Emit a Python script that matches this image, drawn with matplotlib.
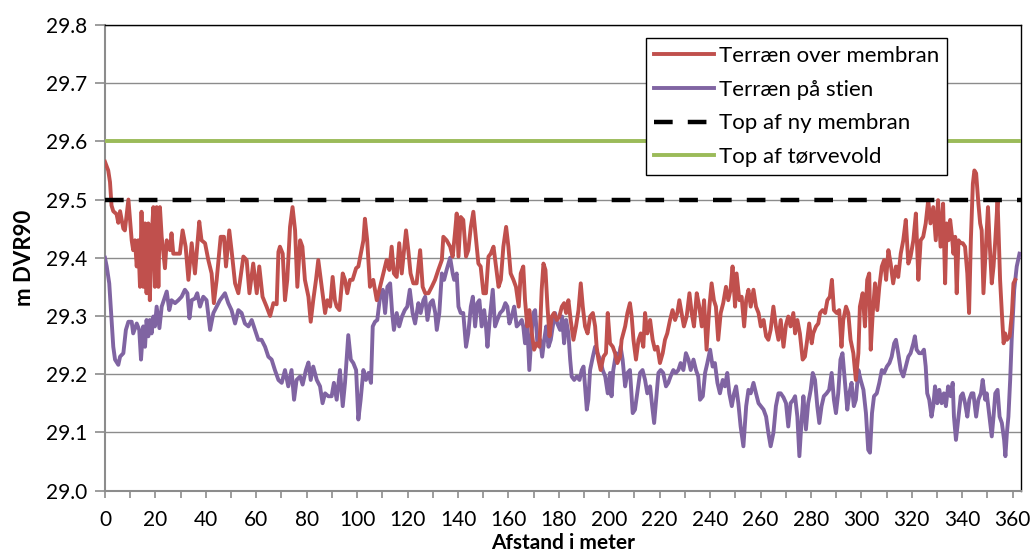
import matplotlib.pyplot as plt
from matplotlib.ticker import MultipleLocator

# distances (m) and levels (m DVR90)
red_x = [0, 1.3, 2.0, 2.6, 3.3, 4.6, 5.3, 6.0, 7.3, 7.9, 9.3, 10.6, 11.2, 11.9, 12.6, 13.2, 13.9, 14.5, 15.2, 15.9,
         16.5, 17.2, 17.8, 18.5, 19.2, 19.8, 20.5, 21.2, 21.8, 22.5, 23.8, 24.5, 25.8, 26.4, 27.1, 28.4, 29.7, 30.8,
         32.0, 33.1, 34.4, 35.7, 37.4, 38.3, 39.7, 41.0, 42.3, 43.2, 44.3, 45.9, 47.2, 48.0, 49.3, 50.2, 51.6, 52.9,
         54.9, 56.2, 57.3, 58.8, 60.2, 61.2, 62.5, 64.1, 65.5, 66.8, 68.1, 68.8, 69.4, 70.5, 71.4, 72.3, 73.4, 74.4,
         75.4, 76.3, 77.4, 78.3, 79.3, 80.7, 81.6, 82.6, 83.7, 84.6, 85.6, 86.6, 87.3, 88.2, 89.3, 90.3, 91.2, 91.9,
         93.0, 94.3, 95.2, 96.1, 97.2, 98.2, 99.6, 100.5, 101.4, 102.5, 103.1, 104.0, 105.1, 106.4, 107.8, 109.1,
         110.4, 111.7, 112.8, 113.7, 114.6, 115.7, 116.7, 117.7, 118.6, 119.4, 120.3, 121.2, 122.3, 123.6, 125.0,
         126.0, 127.0, 128.3, 129.6, 130.9, 132.2, 133.6, 134.2, 135.5, 136.9, 137.9, 138.8, 139.5, 140.2, 141.1,
         142.1, 143.2, 144.1, 145.1, 146.1, 147.2, 148.1, 149.0, 150.1, 151.1, 152.1, 153.0, 154.1, 155.1, 156.1,
         157.0, 158.0, 159.1, 160.0, 160.9, 162.0, 163.0, 164.1, 164.9, 165.9, 166.6, 167.5, 168.3, 169.3, 170.2,
         171.2, 172.3, 173.2, 173.9, 174.7, 175.5, 176.3, 177.2, 178.1, 179.2, 180.2, 181.2, 182.1, 182.9, 183.8,
         184.7, 185.8, 186.8, 187.8, 188.7, 189.5, 190.4, 191.4, 192.4, 193.5, 194.4, 195.0, 195.7, 196.6, 197.7,
         198.7, 199.4, 200.3, 201.4, 202.3, 203.2, 204.3, 204.9, 206.3, 207.2, 208.2, 208.9, 209.6, 210.6, 211.6,
         212.5, 213.5, 214.2, 215.1, 216.2, 217.2, 218.1, 219.1, 220.1, 221.2, 222.1, 223.0, 224.1, 225.1, 226.1,
         227.0, 227.8, 228.7, 229.6, 230.7, 231.8, 232.7, 233.6, 234.7, 235.7, 236.7, 237.6, 238.6, 239.7, 240.6,
         241.5, 242.3, 243.2, 244.2, 245.2, 246.3, 247.2, 248.1, 248.9, 249.9, 250.5, 251.6, 252.5, 253.5, 254.3,
         255.2, 256.1, 257.2, 258.2, 259.2, 260.1, 261.2, 262.2, 263.1, 264.0, 265.1, 266.1, 267.1, 268.0, 269.1,
         270.1, 271.0, 271.9, 273.0, 273.7, 274.6, 275.6, 276.7, 277.6, 278.5, 279.3, 280.3, 280.9, 282.0, 282.9,
         283.6, 284.6, 285.6, 286.5, 287.5, 288.3, 289.1, 290.2, 291.2, 292.1, 292.8, 293.9, 294.8, 295.7, 296.8,
         297.8, 298.8, 299.4, 300.5, 301.4, 302.3, 303.1, 303.7, 304.5, 305.4, 306.3, 307.1, 308.1, 309.0, 309.8,
         310.7, 311.6, 312.6, 313.7, 314.6, 315.6, 316.6, 317.6, 318.6, 319.5, 320.6, 321.6, 322.6, 323.5, 324.5,
         325.5, 326.5, 327.4, 328.5, 329.5, 330.4, 331.4, 332.4, 333.2, 333.8, 334.5, 335.2, 335.8, 336.5, 337.2,
         337.8, 338.5, 339.4, 340.2, 341.1, 342.0, 342.7, 343.4, 344.2, 344.8, 345.5, 346.4, 347.1, 347.7, 348.4,
         349.5, 350.2, 350.8, 351.7, 352.4, 353.1, 354.0, 355.0, 355.7, 356.4, 357.0, 357.7, 358.8, 359.7, 360.3,
         361.0]
red_y = [29.565, 29.55, 29.53, 29.49, 29.48, 29.475, 29.46, 29.48, 29.45, 29.447, 29.50, 29.43, 29.413, 29.43, 29.385,
         29.43, 29.35, 29.479, 29.35, 29.459, 29.339, 29.459, 29.327, 29.436, 29.487, 29.35, 29.487, 29.35, 29.487,
         29.436, 29.382, 29.43, 29.413, 29.442, 29.407, 29.407, 29.407, 29.447, 29.419, 29.362, 29.425, 29.373,
         29.462, 29.43, 29.425, 29.396, 29.373, 29.322, 29.362, 29.436, 29.436, 29.385, 29.447, 29.413, 29.356,
         29.339, 29.402, 29.396, 29.339, 29.39, 29.339, 29.385, 29.333, 29.316, 29.30, 29.322, 29.32, 29.41, 29.419,
         29.407, 29.327, 29.362, 29.453, 29.487, 29.447, 29.35, 29.43, 29.419, 29.362, 29.333, 29.29, 29.327, 29.362,
         29.396, 29.362, 29.327, 29.305, 29.327, 29.316, 29.367, 29.327, 29.316, 29.31, 29.373, 29.362, 29.339,
         29.362, 29.362, 29.382, 29.385, 29.405, 29.43, 29.467, 29.43, 29.35, 29.362, 29.327, 29.35, 29.373, 29.396,
         29.379, 29.419, 29.373, 29.367, 29.425, 29.373, 29.413, 29.447, 29.413, 29.373, 29.356, 29.356, 29.413,
         29.35, 29.339, 29.339, 29.35, 29.362, 29.379, 29.396, 29.436, 29.43, 29.419, 29.402, 29.442, 29.476, 29.402,
         29.47, 29.465, 29.402, 29.413, 29.453, 29.479, 29.43, 29.39, 29.385, 29.339, 29.339, 29.402, 29.407, 29.419,
         29.385, 29.35, 29.362, 29.419, 29.453, 29.419, 29.373, 29.362, 29.35, 29.316, 29.373, 29.385, 29.327,
         29.282, 29.31, 29.27, 29.242, 29.253, 29.247, 29.345, 29.39, 29.379, 29.316, 29.265, 29.299, 29.305, 29.293,
         29.299, 29.316, 29.322, 29.305, 29.327, 29.293, 29.259, 29.282, 29.31, 29.356, 29.316, 29.282, 29.27,
         29.299, 29.305, 29.282, 29.247, 29.225, 29.207, 29.23, 29.236, 29.305, 29.253, 29.247, 29.236, 29.219,
         29.23, 29.259, 29.282, 29.305, 29.322, 29.299, 29.259, 29.225, 29.259, 29.27, 29.247, 29.305, 29.27, 29.293,
         29.259, 29.242, 29.247, 29.219, 29.236, 29.259, 29.27, 29.293, 29.31, 29.293, 29.305, 29.327, 29.305,
         29.282, 29.299, 29.339, 29.305, 29.282, 29.339, 29.316, 29.282, 29.327, 29.242, 29.316, 29.356, 29.327,
         29.316, 29.259, 29.305, 29.322, 29.35, 29.327, 29.345, 29.385, 29.316, 29.373, 29.327, 29.333, 29.282,
         29.327, 29.345, 29.316, 29.345, 29.316, 29.305, 29.282, 29.293, 29.265, 29.259, 29.276, 29.316, 29.282,
         29.259, 29.293, 29.247, 29.285, 29.299, 29.282, 29.305, 29.27, 29.293, 29.27, 29.225, 29.23, 29.259, 29.287,
         29.253, 29.27, 29.282, 29.287, 29.305, 29.31, 29.305, 29.327, 29.333, 29.362, 29.31, 29.305, 29.31, 29.247,
         29.293, 29.316, 29.305, 29.259, 29.236, 29.19, 29.236, 29.316, 29.339, 29.282, 29.362, 29.373, 29.242,
         29.305, 29.356, 29.31, 29.35, 29.385, 29.396, 29.362, 29.413, 29.39, 29.356, 29.385, 29.367, 29.407, 29.43,
         29.465, 29.39, 29.402, 29.43, 29.476, 29.362, 29.43, 29.436, 29.459, 29.499, 29.459, 29.487, 29.43, 29.499,
         29.419, 29.493, 29.356, 29.459, 29.43, 29.465, 29.442, 29.407, 29.436, 29.339, 29.43, 29.425, 29.425,
         29.419, 29.373, 29.305, 29.43, 29.527, 29.55, 29.545, 29.493, 29.459, 29.447, 29.339, 29.43, 29.487, 29.43,
         29.356, 29.385, 29.43, 29.499, 29.362, 29.305, 29.253, 29.27, 29.259, 29.265, 29.305, 29.356, 29.362]

purple_x = [0, 0.7, 1.7, 2.6, 3.3, 4.0, 5.3, 6.0, 7.3, 8.3, 9.3, 10.6, 11.2, 12.6, 13.6, 14.3, 15.2, 15.9, 16.5,
            17.2, 17.8, 18.5, 19.2, 19.8, 20.5, 21.6, 22.5, 23.8, 24.5, 25.5, 26.4, 27.8, 29.1, 30.4, 31.7, 32.7,
            33.5, 34.4, 35.7, 36.6, 37.7, 39.0, 40.3, 41.7, 43.0, 44.3, 45.6, 47.6, 48.9, 50.2, 51.6, 52.9, 54.2,
            55.5, 56.9, 58.2, 59.5, 60.8, 62.1, 63.5, 64.8, 66.1, 67.4, 68.8, 70.1, 71.4, 72.7, 74.0, 75.0, 76.0,
            77.4, 78.4, 79.7, 80.7, 81.6, 82.6, 84.0, 85.3, 86.3, 87.3, 88.6, 89.9, 90.8, 91.9, 93.2, 94.3, 95.2,
            96.5, 97.5, 98.5, 99.6, 100.5, 101.4, 102.5, 103.5, 104.5, 105.5, 106.2, 107.1, 108.0, 109.1, 110.2,
            111.1, 112.0, 113.1, 113.9, 114.6, 115.7, 116.7, 117.8, 118.9, 119.9, 120.9, 122.0, 123.0, 124.3, 125.2,
            126.3, 127.0, 127.9, 129.0, 130.0, 131.0, 131.6, 132.6, 133.6, 134.5, 135.5, 136.9, 137.9, 138.5, 139.5,
            140.2, 141.1, 142.1, 143.2, 144.1, 145.1, 145.9, 146.8, 147.7, 148.5, 149.4, 150.4, 151.1, 151.7, 152.7,
            153.8, 154.7, 155.6, 156.7, 157.8, 158.8, 159.6, 160.4, 161.3, 162.3, 163.3, 164.4, 165.3, 165.9, 166.6,
            167.5, 168.3, 169.3, 169.9, 170.6, 171.5, 172.6, 173.4, 174.2, 175.0, 175.9, 176.8, 177.6, 178.5, 179.4,
            180.5, 181.3, 182.1, 182.9, 183.8, 184.5, 185.1, 186.1, 187.1, 188.2, 189.1, 189.8, 190.4, 191.1, 191.7,
            192.4, 193.5, 194.4, 195.3, 196.4, 197.4, 198.4, 199.4, 200.3, 200.9, 201.6, 202.7, 203.6, 204.5, 205.3,
            206.3, 207.2, 208.2, 209.3, 210.2, 211.1, 212.2, 213.2, 214.2, 215.1, 216.2, 216.9, 217.8, 218.6, 219.5,
            220.4, 221.4, 222.5, 223.4, 224.3, 225.4, 226.4, 227.4, 228.3, 229.4, 230.4, 231.4, 232.3, 233.4, 234.4,
            235.3, 236.0, 237.1, 238.0, 238.9, 240.0, 241.0, 241.9, 242.9, 243.9, 245.0, 245.9, 246.8, 247.6, 248.6,
            249.5, 250.3, 251.2, 252.1, 253.2, 254.3, 255.2, 256.1, 257.2, 258.2, 259.2, 260.1, 261.2, 262.2, 263.1,
            264.0, 265.1, 266.1, 267.1, 268.0, 269.1, 270.1, 271.0, 271.9, 273.0, 273.7, 274.6, 275.4, 276.3, 277.0,
            278.0, 278.9, 279.9, 280.7, 281.6, 282.5, 283.3, 284.2, 285.1, 286.2, 287.2, 288.2, 289.1, 289.9, 290.8,
            291.7, 292.5, 293.4, 294.4, 295.2, 296.1, 297.0, 297.8, 298.8, 299.7, 300.8, 301.8, 302.7, 303.4, 304.2,
            305.0, 306.1, 307.1, 308.1, 309.0, 310.1, 311.1, 312.0, 313.0, 313.7, 314.6, 315.6, 316.6, 317.6, 318.6,
            319.5, 320.6, 321.2, 321.9, 322.9, 323.9, 324.8, 325.5, 326.1, 326.9, 327.8, 328.5, 329.2, 330.1, 330.9,
            331.8, 332.7, 333.5, 334.4, 335.4, 336.2, 336.7, 337.5, 338.4, 339.4, 340.2, 341.1, 342.0, 342.8, 343.7,
            344.4, 345.5, 346.4, 347.4, 348.1, 349.1, 349.7, 350.8, 351.7, 352.4, 353.1, 354.0, 354.8, 355.7, 356.6,
            357.1, 357.7, 358.3, 359.0, 359.6, 360.6, 361.6, 362.7]
purple_y = [29.40, 29.385, 29.356, 29.293, 29.247, 29.225, 29.216, 29.23, 29.236, 29.276, 29.29, 29.29, 29.27,
            29.287, 29.276, 29.225, 29.282, 29.247, 29.293, 29.265, 29.293, 29.27, 29.299, 29.282, 29.316, 29.279,
            29.316, 29.333, 29.342, 29.31, 29.327, 29.322, 29.327, 29.333, 29.345, 29.339, 29.296, 29.327, 29.33,
            29.339, 29.316, 29.333, 29.327, 29.276, 29.305, 29.316, 29.327, 29.339, 29.322, 29.31, 29.287, 29.31,
            29.305, 29.287, 29.282, 29.293, 29.276, 29.259, 29.259, 29.247, 29.23, 29.225, 29.207, 29.19, 29.185,
            29.207, 29.179, 29.207, 29.156, 29.19, 29.196, 29.182, 29.207, 29.22, 29.19, 29.213, 29.19, 29.179, 29.15,
            29.167, 29.162, 29.162, 29.185, 29.156, 29.207, 29.145, 29.185, 29.267, 29.225, 29.219, 29.207, 29.122,
            29.156, 29.207, 29.19, 29.202, 29.185, 29.282, 29.29, 29.293, 29.333, 29.345, 29.305, 29.35, 29.356,
            29.305, 29.276, 29.305, 29.282, 29.299, 29.31, 29.316, 29.345, 29.305, 29.287, 29.322, 29.305, 29.327,
            29.333, 29.293, 29.322, 29.327, 29.305, 29.276, 29.305, 29.373, 29.362, 29.379, 29.40, 29.373, 29.362,
            29.373, 29.316, 29.305, 29.305, 29.247, 29.27, 29.316, 29.333, 29.282, 29.322, 29.327, 29.282, 29.31,
            29.282, 29.247, 29.299, 29.345, 29.282, 29.293, 29.305, 29.31, 29.322, 29.316, 29.287, 29.299, 29.316,
            29.282, 29.287, 29.293, 29.282, 29.253, 29.282, 29.207, 29.276, 29.305, 29.31, 29.253, 29.259, 29.23,
            29.259, 29.282, 29.247, 29.259, 29.282, 29.305, 29.287, 29.276, 29.299, 29.253, 29.293, 29.27, 29.225,
            29.196, 29.19, 29.196, 29.19, 29.207, 29.213, 29.179, 29.139, 29.156, 29.207, 29.23, 29.247, 29.236,
            29.225, 29.207, 29.196, 29.167, 29.202, 29.162, 29.207, 29.236, 29.225, 29.247, 29.225, 29.179, 29.202,
            29.207, 29.133, 29.139, 29.167, 29.202, 29.207, 29.19, 29.167, 29.179, 29.15, 29.116, 29.156, 29.202,
            29.207, 29.202, 29.179, 29.185, 29.196, 29.207, 29.202, 29.207, 29.219, 29.207, 29.236, 29.225, 29.207,
            29.225, 29.207, 29.196, 29.156, 29.162, 29.202, 29.219, 29.242, 29.213, 29.219, 29.185, 29.167, 29.19,
            29.179, 29.202, 29.167, 29.145, 29.167, 29.179, 29.15, 29.11, 29.076, 29.145, 29.173, 29.167, 29.185,
            29.167, 29.15, 29.145, 29.139, 29.127, 29.099, 29.076, 29.099, 29.145, 29.167, 29.167, 29.16, 29.15,
            29.11, 29.15, 29.156, 29.162, 29.127, 29.059, 29.122, 29.162, 29.105, 29.15, 29.173, 29.202, 29.19,
            29.145, 29.116, 29.145, 29.162, 29.167, 29.173, 29.202, 29.156, 29.133, 29.167, 29.225, 29.236, 29.19,
            29.139, 29.167, 29.185, 29.145, 29.156, 29.207, 29.19, 29.173, 29.133, 29.07, 29.065, 29.133, 29.162,
            29.167, 29.185, 29.207, 29.202, 29.213, 29.219, 29.23, 29.253, 29.259, 29.236, 29.207, 29.196, 29.213,
            29.23, 29.236, 29.253, 29.265, 29.242, 29.236, 29.236, 29.242, 29.213, 29.167, 29.156, 29.127, 29.145,
            29.179, 29.15, 29.173, 29.15, 29.167, 29.145, 29.179, 29.162, 29.185, 29.127, 29.087, 29.122, 29.162,
            29.167, 29.15, 29.127, 29.156, 29.167, 29.167, 29.127, 29.156, 29.167, 29.19, 29.156, 29.167, 29.127,
            29.093, 29.127, 29.167, 29.173, 29.127, 29.116, 29.087, 29.059, 29.099, 29.127, 29.19, 29.259, 29.345,
            29.385, 29.407]

top_membran = 29.5
top_torvevold = 29.6

labels = ['Terræn over membran', 'Terræn på stien', 'Top af ny membran', 'Top af tørvevold']

plt.rcParams['font.family'] = ['Lato', 'DejaVu Sans']

fig = plt.figure(figsize=(10.33, 5.55), dpi=100)
ax = fig.add_axes([0.1016, 0.1162, 0.8868, 0.8388])

ax.plot(red_x, red_y, color='#C0504D', linewidth=2.8, label=labels[0], zorder=4)
ax.plot(purple_x, purple_y, color='#8064A2', linewidth=2.8, label=labels[1], zorder=3)
ax.axhline(top_membran, color='black', linewidth=3.2, dashes=(4.2, 3.4), label=labels[2], zorder=5)
ax.axhline(top_torvevold, color='#9BBB59', linewidth=2.8, label=labels[3], zorder=5)

ax.set_xlim(0, 363.3)
ax.set_ylim(29.0, 29.8)
yticks = [29.0, 29.1, 29.2, 29.3, 29.4, 29.5, 29.6, 29.7, 29.8]
ax.set_yticks(yticks)
ax.set_yticklabels([f'{v:.1f}' for v in yticks])
ax.xaxis.set_major_locator(MultipleLocator(20))
ax.xaxis.set_minor_locator(MultipleLocator(10))

ax.grid(axis='y', color='#8C8C8C', linewidth=1.0, zorder=0)
ax.set_axisbelow(True)

for side in ['left', 'bottom']:
    ax.spines[side].set_color('#8C8C8C')
    ax.spines[side].set_linewidth(1.5)
for side in ['top', 'right']:
    ax.spines[side].set_color('black')
    ax.spines[side].set_linewidth(1.0)

ax.tick_params(axis='both', which='both', direction='out', color='#8C8C8C', width=1.2, labelsize=15)
ax.tick_params(axis='y', length=7, pad=6)
ax.tick_params(axis='x', which='both', length=5, pad=9)

ax.set_xlabel('Afstand i meter', fontsize=15, fontweight='bold', labelpad=2)
ax.set_ylabel('m DVR90', fontsize=16, fontweight='bold', labelpad=8)

leg = ax.legend(loc='upper left', bbox_to_anchor=(0.5906, 0.972), borderaxespad=0, fontsize=16,
                fancybox=False, framealpha=1, edgecolor='black', handlelength=2.7, handletextpad=0.25,
                labelspacing=0.62, borderpad=0.35)
leg.get_frame().set_linewidth(1.0)

fig.savefig('out.png', dpi=100)
